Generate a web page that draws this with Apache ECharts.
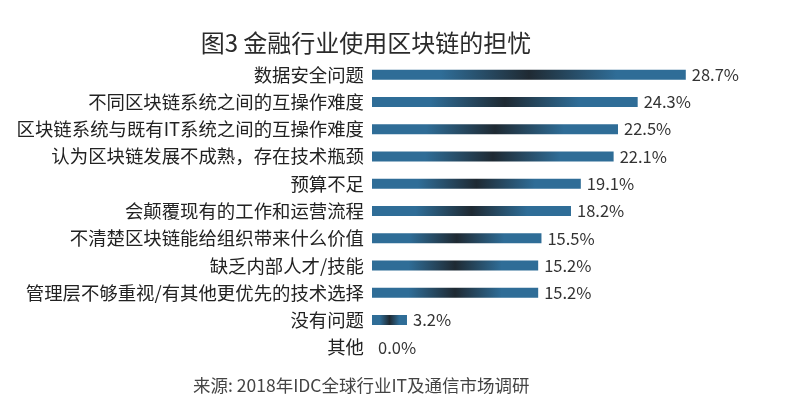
<!DOCTYPE html>
<html><head><meta charset="utf-8">
<script src="https://cdn.jsdelivr.net/npm/echarts@6/dist/echarts.min.js"></script>
<style>html,body{margin:0;padding:0;background:#fff}#c{width:800px;height:415px}</style>
</head><body><div id="c"></div>
<script>
const categories = ['数据安全问题','不同区块链系统之间的互操作难度','区块链系统与既有IT系统之间的互操作难度','认为区块链发展不成熟，存在技术瓶颈','预算不足','会颠覆现有的工作和运营流程','不清楚区块链能给组织带来什么价值','缺乏内部人才/技能','管理层不够重视/有其他更优先的技术选择','没有问题','其他'];
const values = [28.7,24.3,22.5,22.1,19.1,18.2,15.5,15.2,15.2,3.2,0.0];
const titleText = '图3 金融行业使用区块链的担忧';
const sourceText = '来源: 2018年IDC全球行业IT及通信市场调研';

const chart = echarts.init(document.getElementById('c'));
const font = '"Noto Sans CJK SC", "Noto Sans", sans-serif';
const grad = new echarts.graphic.LinearGradient(0,0,1,0,[
  {offset:0,color:'#2f6d97'},{offset:0.22,color:'#2f6d97'},
  {offset:0.5,color:'#1f2a33'},{offset:0.78,color:'#2f6d97'},{offset:1,color:'#2f6d97'}]);
chart.setOption({
  backgroundColor:'#fff',
  animation:false,
  title:[{text:titleText,left:361,top:26,textAlign:'center',textStyle:{fontFamily:font,fontSize:24,fontWeight:'normal',color:'#2a2a2a'}},
         {text:sourceText,left:188,top:372,textStyle:{fontFamily:font,fontSize:17.5,fontWeight:'normal',color:'#444'}}],
  grid:{left:372,top:61,width:328,height:300,containLabel:false},
  xAxis:{type:'value',min:0,max:30,show:false},
  yAxis:{type:'category',data:categories,inverse:true,axisLine:{show:false},axisTick:{show:false},
    axisLabel:{margin:8,fontFamily:font,fontSize:18.4,color:'#222'}},
  series:[{type:'bar',data:values,barWidth:10,itemStyle:{color:grad},
    label:{show:true,position:'right',distance:6,fontFamily:font,fontSize:16.5,color:'#333',
      formatter:p=>p.value.toFixed(1)+'%'}}]
});
</script></body></html>
